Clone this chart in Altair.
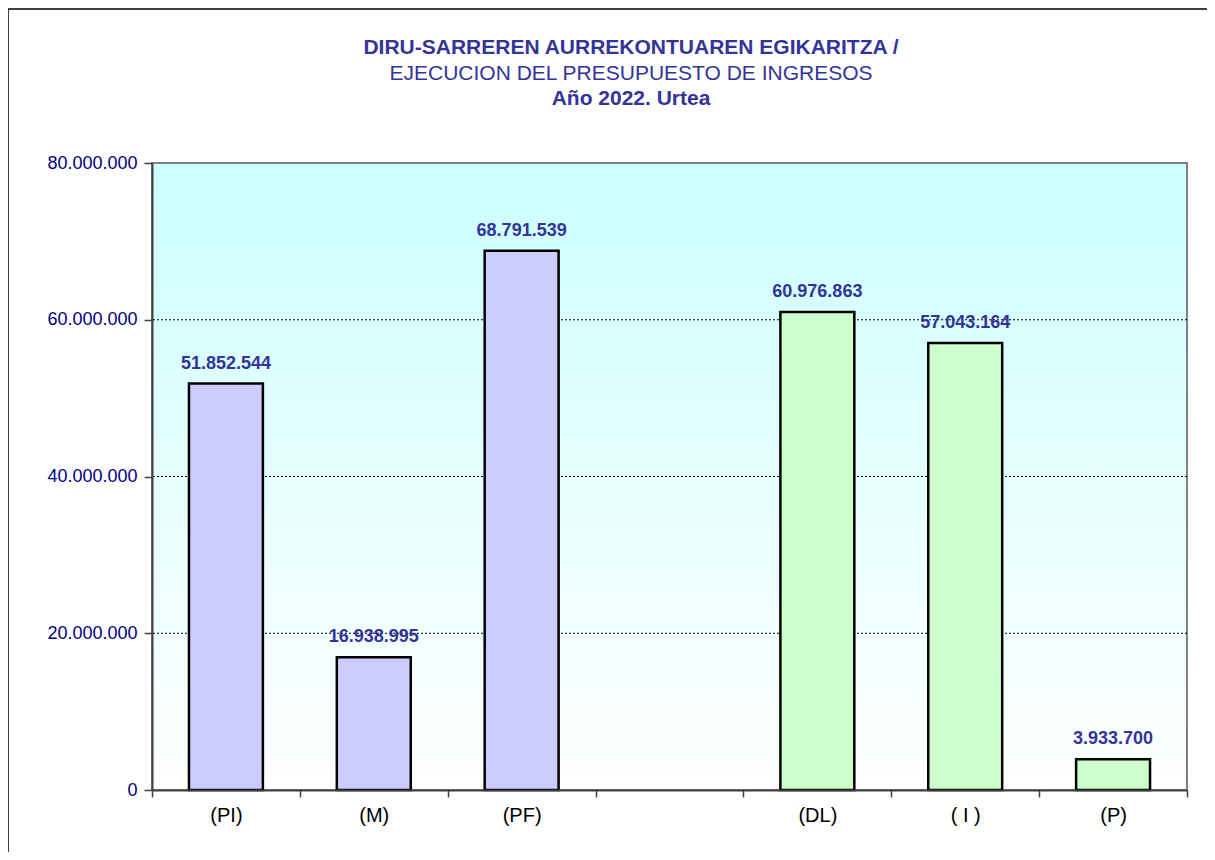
import altair as alt
import pandas as pd

categories = ["(PI)", "(M)", "(PF)", " ", "(DL)", "( I )", "(P)"]
values = [51852544, 16938995, 68791539, None, 60976863, 57043164, 3933700]
groups = ["ingresos", "ingresos", "ingresos", None, "ejecucion", "ejecucion", "ejecucion"]
grid_values = [20000000, 40000000, 60000000]
y_ticks = [0, 20000000, 40000000, 60000000, 80000000]
title_lines = ["DIRU-SARREREN AURREKONTUAREN EGIKARITZA /",
               "EJECUCION DEL PRESUPUESTO DE INGRESOS",
               "Año 2022. Urtea"]

df = pd.DataFrame({"cat": categories, "value": values, "group": groups}).dropna()
grid_df = pd.DataFrame({"value": grid_values})

W, H = 1035, 627
FONT = "Liberation Sans"

x_scale = alt.Scale(domain=categories, paddingInner=0, paddingOuter=0)
x_axis = alt.Axis(title=None, labelAngle=0, tickBand="extent", tickSize=7,
                  labelPadding=8, labelFontSize=20, labelFont=FONT,
                  labelColor="#000000", domainColor="#404040", domainWidth=2,
                  tickColor="#404040", tickWidth=1.5, grid=False, zindex=1)
y_scale = alt.Scale(domain=[0, 80000000], nice=False)
y_axis = alt.Axis(title=None, values=y_ticks, format=",d", tickSize=8,
                  labelPadding=7, labelFontSize=18, labelFont=FONT,
                  labelColor="#000080", domainColor="#404040", domainWidth=2,
                  tickColor="#404040", tickWidth=1.5, grid=False, zindex=1)

bg = alt.Chart(alt.Data(values=[{}])).mark_rect(
    color=alt.Gradient(gradient="linear", x1=0, x2=0, y1=0, y2=1,
                       stops=[alt.GradientStop(offset=0, color="#ccffff"),
                              alt.GradientStop(offset=1, color="#ffffff")]),
    stroke="#808080", strokeWidth=2
).encode(x=alt.value(0), x2=alt.value(W), y=alt.value(0), y2=alt.value(H))

grid = alt.Chart(grid_df).mark_rule(color="#000000", strokeWidth=1, strokeDash=[2, 2]).encode(
    y=alt.Y("value:Q", scale=y_scale, axis=y_axis)
)

bars = alt.Chart(df).mark_bar(stroke="#000000", strokeWidth=2.5,
                              width=alt.RelativeBandSize(0.5)).encode(
    x=alt.X("cat:N", sort=categories, scale=x_scale, axis=x_axis),
    y=alt.Y("value:Q", scale=y_scale, axis=y_axis),
    color=alt.Color("group:N", scale=alt.Scale(domain=["ingresos", "ejecucion"],
                                               range=["#ccccff", "#ccffcc"]), legend=None)
)

labels = alt.Chart(df).mark_text(baseline="alphabetic", dy=-15, fontSize=18, fontWeight="bold",
                                 font=FONT, color="#333399").encode(
    x=alt.X("cat:N", sort=categories, scale=x_scale, axis=x_axis),
    y=alt.Y("value:Q", scale=y_scale, axis=y_axis),
    text=alt.Text("value:Q", format=",d")
)

t1 = alt.Chart(alt.Data(values=[{"t": title_lines[0]}])).mark_text(
    fontSize=21, fontWeight="bold", font=FONT, color="#333399", baseline="middle", align="center"
).encode(x=alt.value(479), y=alt.value(-115), text="t:N")
t2 = alt.Chart(alt.Data(values=[{"t": title_lines[1]}])).mark_text(
    fontSize=21, fontWeight="normal", font=FONT, color="#333399", baseline="middle", align="center"
).encode(x=alt.value(479), y=alt.value(-89), text="t:N")
t3 = alt.Chart(alt.Data(values=[{"t": title_lines[2]}])).mark_text(
    fontSize=21, fontWeight="bold", font=FONT, color="#333399", baseline="middle", align="center"
).encode(x=alt.value(479), y=alt.value(-64), text="t:N")

border_top = alt.Chart(alt.Data(values=[{}])).mark_rule(color="#000000", strokeWidth=1.5).encode(
    x=alt.value(-145), x2=alt.value(1062), y=alt.value(-154))
border_left = alt.Chart(alt.Data(values=[{}])).mark_rule(color="#000000", strokeWidth=1.5).encode(
    x=alt.value(-144), y=alt.value(-154), y2=alt.value(720))
border_right = alt.Chart(alt.Data(values=[{}])).mark_rule(color="#c0c0c0", strokeWidth=1.5).encode(
    x=alt.value(1061), y=alt.value(-154), y2=alt.value(720))

chart = alt.layer(bg, grid, bars, labels, t1, t2, t3, border_top, border_left, border_right).properties(
    width=W, height=H,
    autosize=alt.AutoSizeParams(type="none"),
    padding={"left": 144, "top": 155, "right": 20, "bottom": 62},
).configure_view(stroke=None).configure(
    locale={"number": {"decimal": ",", "thousands": ".", "grouping": [3], "currency": ["", " €"]}}
)

chart.save("out.html", embed_options={"renderer": "svg", "actions": False})
